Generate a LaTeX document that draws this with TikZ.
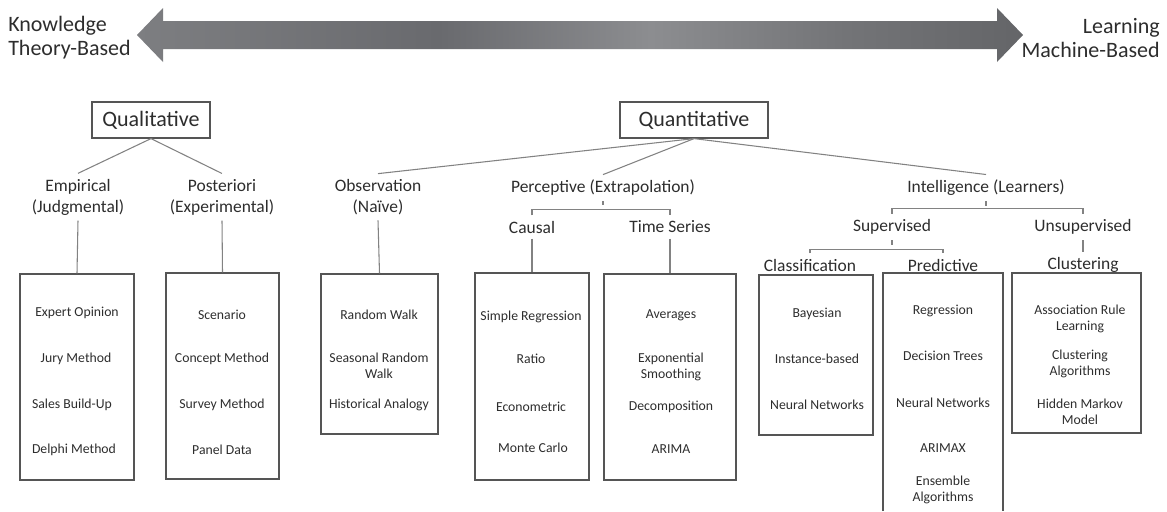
\documentclass[tikz,border=0pt]{standalone}
\usepackage{fontspec}
\setmainfont{Carlito}
\definecolor{txt}{RGB}{45,45,45}
\definecolor{wire}{RGB}{130,130,130}
\definecolor{frame}{RGB}{85,85,85}
\definecolor{barA}{RGB}{125,126,129}
\definecolor{barB}{RGB}{105,106,110}
\definecolor{barC}{RGB}{140,141,144}
\definecolor{barD}{RGB}{115,116,119}
\definecolor{barE}{RGB}{100,101,104}
\pgfdeclarehorizontalshading{barshade}{100bp}{color(0bp)=(barA); color(25bp)=(barA); color(42bp)=(barB); color(54bp)=(barC); color(65bp)=(barD); color(75bp)=(barE); color(100bp)=(barE)}
\begin{document}
\begin{tikzpicture}[x=0.75pt,y=-0.75pt,
		side/.style={font=\fontsize{16.5}{18}\selectfont,text=txt,inner sep=0pt},
		cat/.style={draw=frame,line width=0.9pt,font=\fontsize{16.5}{18}\selectfont,text=txt,minimum height=27pt,inner sep=0pt},
		lbl/.style={align=center,font=\fontsize{13.1}{15.75}\selectfont,text=txt,inner xsep=2pt,inner ysep=4pt},
		item/.style={align=center,font=\fontsize{10.3}{12}\selectfont,text=txt},
		listbox/.style={draw=frame,line width=1.1pt,inner sep=0pt},
		link/.style={draw=wire,line width=0.8pt}]
		\useasboundingbox (0,0) rectangle (1167,511);
		\shade[shading=barshade] (137,35) -- (163,8) -- (163,21) -- (997,21) -- (997,8) -- (1023,35) -- (997,62) -- (997,49) -- (163,49) -- (163,62) -- cycle;
		\node[side,anchor=west,align=left] (know) at (8,38) {Knowledge\\Theory-Based};
		\node[side,anchor=east,align=right] (learn) at (1160,38) {Learning\\Machine-Based};

		\node[cat,minimum width=88.5pt] (qual) at (151,120) {Qualitative};
		\node[cat,minimum width=111pt] (quant) at (694,120) {Quantitative};

		\node[lbl] (emp) at (78,197) {Empirical\\(Judgmental)};
		\node[lbl] (post) at (222,197) {Posteriori\\(Experimental)};
		\node[lbl] (obs) at (378,197) {Observation\\(Naïve)};
		\node[lbl] (perc) at (603,188) {Perceptive (Extrapolation)};
		\node[lbl] (intel) at (986,188) {Intelligence (Learners)};
		\node[lbl] (caus) at (532,227) {Causal};
		\node[lbl] (tser) at (670,227) {Time Series};
		\node[lbl] (sup) at (892,227) {Supervised};
		\node[lbl] (unsup) at (1083,227) {Unsupervised};
		\node[lbl] (clas) at (810,265) {Classification};
		\node[lbl] (pred) at (943,265) {Predictive};
		\node[lbl] (clus) at (1083,265) {Clustering};

		\node[listbox,minimum width=85.5pt,minimum height=154.5pt] (empbox) at (77,377) {};
		\node[listbox,minimum width=84.75pt,minimum height=154.5pt] (postbox) at (222.5,376) {};
		\node[listbox,minimum width=87.75pt,minimum height=120pt] (obsbox) at (379.5,354) {};
		\node[listbox,minimum width=85.5pt,minimum height=155.25pt] (causbox) at (532,376.5) {};
		\node[listbox,minimum width=99pt,minimum height=154.5pt] (tserbox) at (670,377) {};
		\node[listbox,minimum width=85.5pt,minimum height=120pt] (clasbox) at (816,355) {};
		\node[listbox,minimum width=96.75pt,minimum height=120pt] (clusbox) at (1076.5,353) {};
		\draw[listbox] (883,511) |- (1003,273) -- (1003,511);

		\draw[link] (qual.south) -- (emp.north);
		\draw[link] (qual.south) -- (post.north);
		\draw[link] (emp.south) -- (empbox.north);
		\draw[link] (post.south) -- (postbox.north);
		\draw[link] (quant.south) -- (obs.north);
		\draw[link] (quant.south) -- (perc.north);
		\draw[link] (quant.south) -- (intel.north);
		\draw[link] (obs.south) -- (obsbox.north);
		\draw[link] (perc.south) -- ++(0,4);
		\draw[link] (caus.north) -- ++(0,-6) -| (tser.north);
		\draw[link] (caus.south) -- (causbox.north);
		\draw[link] (tser.south) -- (tserbox.north);
		\draw[link] (intel.south) -- ++(0,5);
		\draw[link] (sup.north) -- ++(0,-5) -| (unsup.north);
		\draw[link] (sup.south) -- ++(0,5);
		\draw[link] (clas.north) -- ++(0,-4) -| (pred.north);
		\draw[link] (unsup.south) -- (clus.north);

		\node[item] (e1) at (77,313) {Expert Opinion};
		\node[item] (e2) at (76,359) {Jury Method};
		\node[item] (e3) at (72,405) {Sales Build-Up};
		\node[item] (e4) at (74,450) {Delphi Method};
		\node[item] (p1) at (222,315) {Scenario};
		\node[item] (p2) at (222,359) {Concept Method};
		\node[item] (p3) at (222,405) {Survey Method};
		\node[item] (p4) at (222,450) {Panel Data};
		\node[item] (o1) at (379,315) {Random Walk};
		\node[item] (o2) at (379,366) {Seasonal Random\\Walk};
		\node[item] (o3) at (379,405) {Historical Analogy};
		\node[item] (c1) at (531,317) {Simple Regression};
		\node[item] (c2) at (531,359) {Ratio};
		\node[item] (c3) at (531,407) {Econometric};
		\node[item] (c4) at (533,448) {Monte Carlo};
		\node[item] (t1) at (671,315) {Averages};
		\node[item] (t2) at (671,367) {Exponential\\Smoothing};
		\node[item] (t3) at (671,407) {Decomposition};
		\node[item] (t4) at (671,449) {ARIMA};
		\node[item] (k1) at (817,314) {Bayesian};
		\node[item] (k2) at (817,359) {Instance-based};
		\node[item] (k3) at (817,405) {Neural Networks};
		\node[item] (r1) at (943,311) {Regression};
		\node[item] (r2) at (943,356) {Decision Trees};
		\node[item] (r3) at (943,403) {Neural Networks};
		\node[item] (r4) at (943,448) {ARIMAX};
		\node[item] (r5) at (943,490) {Ensemble\\Algorithms};
		\node[item] (u1) at (1080,319) {Association Rule\\Learning};
		\node[item] (u2) at (1080,364) {Clustering\\Algorithms};
		\node[item] (u3) at (1080,412) {Hidden Markov\\Model};
\end{tikzpicture}
\end{document}
